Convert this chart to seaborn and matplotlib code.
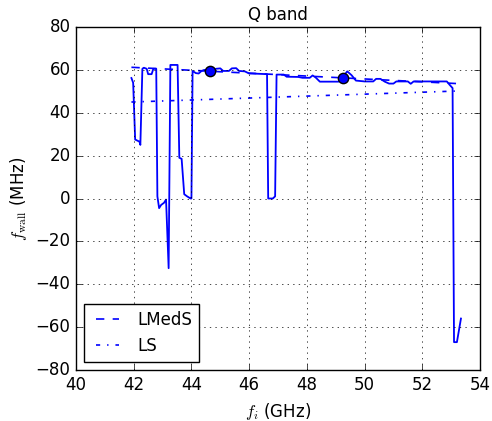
import matplotlib
matplotlib.use("Agg")
import matplotlib.pyplot as plt
import seaborn as sns

# datos (Q band)
f_i = [41.92, 41.98, 42.05, 42.20, 42.23, 42.30, 42.35, 42.45, 42.50, 42.62,
       42.68, 42.78, 42.82, 42.88, 42.95, 43.05, 43.12, 43.21, 43.27, 43.52,
       43.58, 43.66, 43.75, 43.85, 43.97, 44.00, 44.04, 44.15, 44.25, 44.35,
       44.45, 44.55, 44.75, 44.85, 45.00, 45.10, 45.30, 45.40, 45.55, 45.65,
       45.85, 46.00, 46.10, 46.62, 46.66, 46.82, 46.90, 46.95, 47.20, 47.30,
       47.70, 47.85, 48.10, 48.20, 48.30, 48.45, 48.50, 49.10, 49.20, 49.40,
       49.55, 49.70, 50.00, 50.30, 50.40, 50.55, 50.70, 50.85, 51.00, 51.10,
       51.50, 51.60, 51.70, 52.00, 52.85, 52.95, 53.05, 53.10, 53.20, 53.34]
f_wall = [56.2, 54.0, 27.5, 26.5, 25.0, 60.5, 61.0, 60.5, 58.0, 58.0,
          60.5, 60.5, 1.0, -4.5, -3.0, -2.0, -0.5, -32.5, 62.3, 62.3,
          19.0, 18.5, 2.0, 1.0, 0.0, 0.0, 59.5, 58.5, 58.3, 59.5,
          60.0, 59.5, 59.5, 60.5, 60.7, 59.5, 59.5, 60.7, 60.8, 59.5,
          59.3, 58.3, 58.3, 58.0, 0.0, 0.0, 1.0, 57.8, 57.8, 56.8,
          56.7, 56.3, 56.3, 57.4, 56.5, 54.5, 54.5, 54.5, 56.0, 59.3,
          57.5, 55.0, 54.6, 54.6, 55.8, 55.8, 54.5, 53.6, 53.6, 54.6,
          54.6, 53.5, 54.6, 54.6, 54.6, 53.0, 51.5, -67.0, -67.0, -56.0]

# ajustes
fit_x = [41.92, 53.36]
lmeds_y = [61.2, 53.5]
ls_y = [45.0, 50.2]

# puntos usados por LMedS
sel_x = [44.64, 49.24]
sel_y = [59.3, 56.2]

plt.style.use("classic")
plt.rcParams["savefig.facecolor"] = "white"
plt.rcParams["figure.facecolor"] = "white"

fig = plt.figure(figsize=(4.92, 4.21), dpi=100)
ax = fig.add_axes([0.1545, 0.1211, 0.8211, 0.8148])

sns.lineplot(x=f_i, y=f_wall, sort=False, estimator=None, color="b", lw=1.3, ax=ax)
sns.lineplot(x=fit_x, y=lmeds_y, sort=False, estimator=None, color="b", lw=1.2,
             linestyle="--", label="LMedS", ax=ax)
sns.lineplot(x=fit_x, y=ls_y, sort=False, estimator=None, color="b", lw=1.2,
             linestyle="-.", label="LS", ax=ax)
sns.scatterplot(x=sel_x, y=sel_y, s=55, color="b", edgecolor="k", linewidth=1,
                zorder=3, ax=ax)

ax.set_xlim(40, 54)
ax.set_ylim(-80, 80)
ax.set_xticks(range(40, 55, 2))
ax.set_yticks(range(-80, 81, 20))
ax.grid(True)
ax.set_title("Q band", fontsize=12, pad=5)
ax.set_xlabel("$f_i$ (GHz)", fontsize=12)
ax.set_ylabel(r"$f_\mathrm{wall}$ (MHz)", fontsize=12)
ax.tick_params(labelsize=12)
ax.legend(loc="lower left", fontsize=12)

fig.savefig("out.png", dpi=100)
